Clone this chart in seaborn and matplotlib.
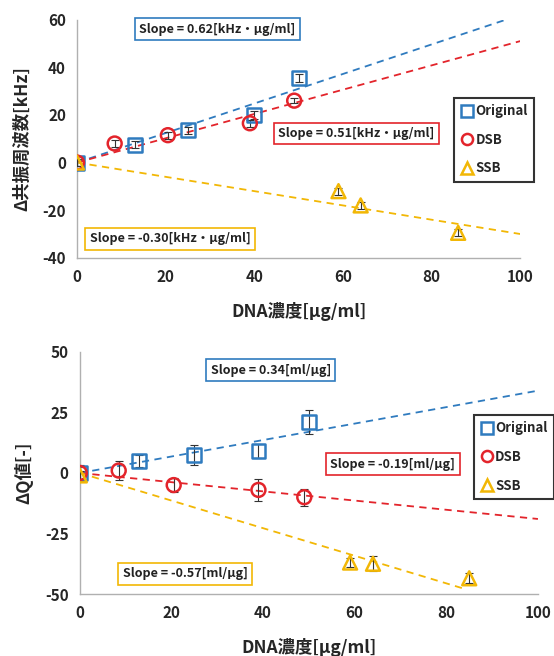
import numpy as np
import pandas as pd
import matplotlib
matplotlib.use('Agg')
import matplotlib.pyplot as plt
import seaborn as sns
from matplotlib.lines import Line2D

# ---- data: resonance frequency shift (top panel) ----
freq_orig_x = [0, 13, 25, 40, 50]
freq_orig_y = [0, 7.5, 13.5, 20, 35.5]
freq_orig_err = [1.5, 1.5, 1.5, 1.5, 1.5]
freq_dsb_x = [0, 8.5, 20.5, 39, 49]
freq_dsb_y = [0, 8, 11.5, 16.5, 26]
freq_dsb_err = [1.5, 1.5, 1.5, 1.5, 1.0]
freq_ssb_x = [0, 59, 64, 86]
freq_ssb_y = [0, -12, -18, -29.5]
freq_ssb_err = [1.5, 1.5, 1.5, 1.5]
freq_slopes = [0.62, 0.51, -0.30]
freq_fit_xmax = [100, 100, 100]
freq_slope_texts = ['Slope = 0.62[kHz\u30fb\u03bcg/ml]',
                    'Slope = 0.51[kHz\u30fb\u03bcg/ml]',
                    'Slope = -0.30[kHz\u30fb\u03bcg/ml]']

# ---- data: Q value shift (bottom panel) ----
q_orig_x = [0, 13, 25, 39, 50]
q_orig_y = [0, 5, 7.5, 9, 21]
q_orig_err = [3.5, 2.5, 4.0, 3.0, 5.0]
q_dsb_x = [0, 8.5, 20.5, 39, 49]
q_dsb_y = [0, 1, -5, -7, -10]
q_dsb_err = [2.5, 4.0, 3.0, 4.5, 3.5]
q_ssb_x = [0, 59, 64, 85]
q_ssb_y = [-1, -37, -37.5, -43.5]
q_ssb_err = [2.0, 2.0, 3.0, 2.0]
q_slopes = [0.34, -0.19, -0.57]
q_fit_xmax = [100, 100, 84]
q_slope_texts = ['Slope = 0.34[ml/\u03bcg]',
                 'Slope = -0.19[ml/\u03bcg]',
                 'Slope = -0.57[ml/\u03bcg]']

series_names = ['Original', 'DSB', 'SSB']
colors = ['#2f7bbf', '#e3242b', '#f2b705']
markers = ['s', 'o', '^']


def draw_panel(ax, xs, ys, errs, slopes, fit_xmax, texts, text_pos,
               ylim, yticks, ylabel, legend_anchor):
    # trend lines (through origin, as given by slope)
    for slope, xmax, color in zip(slopes, fit_xmax, colors):
        fit = pd.DataFrame({'x': [0, xmax], 'y': [0, slope * xmax]})
        sns.lineplot(data=fit, x='x', y='y', color=color, lw=1.3,
                     linestyle=(0, (4, 3)), ax=ax, zorder=2)

    # error bars
    for x, y, e in zip(xs, ys, errs):
        ax.errorbar(x, y, yerr=e, fmt='none', ecolor='#333333',
                    elinewidth=0.8, capsize=3, capthick=0.8, zorder=3)

    # markers
    frames = []
    for name, x, y in zip(series_names, xs, ys):
        frames.append(pd.DataFrame({'x': x, 'y': y, 'series': name}))
    df = pd.concat(frames, ignore_index=True)
    sns.scatterplot(data=df, x='x', y='y', hue='series', style='series',
                    palette=dict(zip(series_names, colors)),
                    markers=dict(zip(series_names, markers)),
                    s=100, linewidth=1.8, legend=False, ax=ax, zorder=4)
    # hollow markers: set edge colors from face colors
    for coll in ax.collections:
        if hasattr(coll, 'get_offsets') and coll.get_offsets().shape[0] == len(df):
            fc = coll.get_facecolors()
            coll.set_edgecolors(fc)
            coll.set_facecolors('none')

    # slope boxes
    for txt, (tx, ty), color in zip(texts, text_pos, colors):
        ax.text(tx, ty, txt, ha='center', va='center', fontsize=9,
                fontweight='bold', color='#222222', zorder=5,
                bbox=dict(boxstyle='square,pad=0.35', fc='white',
                          ec=color, lw=1.2))

    # legend
    handles = [Line2D([], [], marker=m, color=c, markerfacecolor='none',
                      markeredgewidth=1.8, markersize=8, linestyle='none')
               for m, c in zip(markers, colors)]
    leg = ax.legend(handles, series_names, loc='center right',
                    bbox_to_anchor=legend_anchor, borderaxespad=0,
                    frameon=True, fancybox=False, edgecolor='black',
                    handletextpad=0.1, borderpad=0.5, labelspacing=1.1,
                    handlelength=1.0,
                    prop={'weight': 'bold', 'size': 9.5,
                          'family': ['Noto Sans CJK JP', 'DejaVu Sans']})
    leg.get_frame().set_linewidth(1.5)

    ax.set_xlim(0, 100)
    ax.set_ylim(*ylim)
    ax.set_xticks([0, 20, 40, 60, 80, 100])
    ax.set_yticks(yticks)
    ax.set_xlabel('DNA濃度[\u03bcg/ml]', fontsize=12.5, fontweight='bold',
                  labelpad=12)
    ax.set_ylabel(ylabel, fontsize=12.5, fontweight='bold', labelpad=8)
    ax.tick_params(length=0, labelsize=11, pad=8)
    for lab in ax.get_xticklabels() + ax.get_yticklabels():
        lab.set_fontweight('bold')
    for side in ['top', 'right']:
        ax.spines[side].set_visible(False)
    for side in ['left', 'bottom']:
        ax.spines[side].set_color('#b0b0b0')
        ax.spines[side].set_linewidth(1.0)
    ax.grid(False)


def main():
    sns.set_style('white')
    plt.rcParams['font.family'] = ['Noto Sans CJK JP', 'DejaVu Sans']
    plt.rcParams['axes.unicode_minus'] = False

    fig = plt.figure(figsize=(5.54, 6.56), dpi=100)
    ax_top = fig.add_axes([0.139, 0.607, 0.800, 0.363])
    ax_bot = fig.add_axes([0.144, 0.0945, 0.827, 0.369])

    draw_panel(ax_top,
               [freq_orig_x, freq_dsb_x, freq_ssb_x],
               [freq_orig_y, freq_dsb_y, freq_ssb_y],
               [freq_orig_err, freq_dsb_err, freq_ssb_err],
               freq_slopes, freq_fit_xmax, freq_slope_texts,
               [(31.6, 56), (63, 12.2), (21, -32)],
               (-40, 60), [-40, -20, 0, 20, 40, 60],
               '\u0394共振周波数[kHz]', (1.032, 0.496))

    draw_panel(ax_bot,
               [q_orig_x, q_dsb_x, q_ssb_x],
               [q_orig_y, q_dsb_y, q_ssb_y],
               [q_orig_err, q_dsb_err, q_ssb_err],
               q_slopes, q_fit_xmax, q_slope_texts,
               [(41.7, 42.5), (68.3, 3.7), (23, -41.7)],
               (-50, 50), [-50, -25, 0, 25, 50],
               '\u0394Q値[-]', (1.035, 0.566))

    fig.savefig('out.png', dpi=100)
    plt.close(fig)


if __name__ == '__main__':
    main()
